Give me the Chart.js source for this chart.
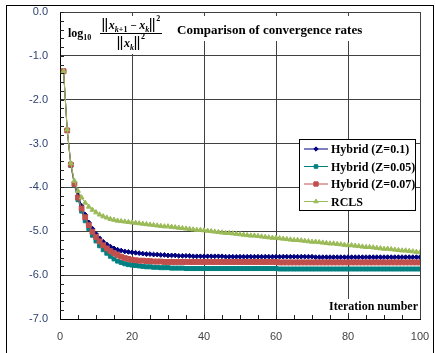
<!DOCTYPE html>
<html>
<head>
<meta charset="utf-8">
<script src="https://cdn.jsdelivr.net/npm/chart.js@4.4.1/dist/chart.umd.min.js"></script>
<style>
  html, body { margin: 0; padding: 0; background: #fff; }
  #wrap { width: 435px; height: 353px; position: relative; }
</style>
</head>
<body>
<div id="wrap"><canvas id="convChart"></canvas></div>
<script>
// ===== DATA =====
const iterations = Array.from({ length: 100 }, (_, i) => i + 1);

const hybrid01 = [
    -1.35, -2.68, -3.45, -3.88, -4.18, -4.42, -4.62, -4.80, -4.94, -5.06,
    -5.16, -5.24, -5.30, -5.35, -5.39, -5.42, -5.44, -5.46, -5.47, -5.48,
    -5.49, -5.50, -5.51, -5.52, -5.52, -5.53, -5.53, -5.54, -5.54, -5.55,
    -5.55, -5.55, -5.56, -5.56, -5.56, -5.56, -5.57, -5.57, -5.57, -5.57,
    -5.57, -5.57, -5.57, -5.57, -5.57, -5.58, -5.58, -5.58, -5.58, -5.58,
    -5.58, -5.58, -5.58, -5.58, -5.58, -5.58, -5.58, -5.58, -5.58, -5.58,
    -5.58, -5.58, -5.58, -5.58, -5.58, -5.58, -5.58, -5.58, -5.58, -5.58,
    -5.59, -5.59, -5.59, -5.59, -5.59, -5.59, -5.59, -5.59, -5.59, -5.59,
    -5.59, -5.59, -5.59, -5.59, -5.59, -5.59, -5.59, -5.59, -5.59, -5.59,
    -5.59, -5.59, -5.59, -5.59, -5.59, -5.59, -5.59, -5.59, -5.59, -5.59
];

const hybrid005 = [
    -1.35, -2.70, -3.50, -3.95, -4.28, -4.54, -4.76, -4.94, -5.09, -5.22,
    -5.33, -5.42, -5.50, -5.57, -5.63, -5.68, -5.71, -5.74, -5.76, -5.77,
    -5.78, -5.79, -5.80, -5.81, -5.81, -5.82, -5.82, -5.83, -5.83, -5.83,
    -5.84, -5.84, -5.84, -5.84, -5.85, -5.85, -5.85, -5.85, -5.85, -5.85,
    -5.85, -5.85, -5.85, -5.85, -5.85, -5.85, -5.85, -5.85, -5.85, -5.85,
    -5.85, -5.85, -5.85, -5.85, -5.85, -5.85, -5.85, -5.85, -5.85, -5.85,
    -5.86, -5.86, -5.86, -5.86, -5.86, -5.86, -5.86, -5.86, -5.86, -5.86,
    -5.86, -5.86, -5.86, -5.86, -5.86, -5.86, -5.86, -5.86, -5.86, -5.86,
    -5.86, -5.86, -5.86, -5.86, -5.86, -5.86, -5.86, -5.86, -5.86, -5.86,
    -5.86, -5.86, -5.86, -5.86, -5.86, -5.86, -5.86, -5.86, -5.86, -5.86
];

const hybrid007 = [
    -1.35, -2.70, -3.48, -3.92, -4.23, -4.48, -4.68, -4.86, -5.01, -5.13,
    -5.23, -5.32, -5.39, -5.45, -5.50, -5.54, -5.58, -5.61, -5.63, -5.65,
    -5.66, -5.67, -5.67, -5.68, -5.68, -5.69, -5.69, -5.69, -5.70, -5.70,
    -5.70, -5.70, -5.70, -5.70, -5.70, -5.70, -5.70, -5.70, -5.70, -5.70,
    -5.70, -5.70, -5.70, -5.70, -5.70, -5.70, -5.70, -5.70, -5.70, -5.70,
    -5.70, -5.70, -5.70, -5.70, -5.70, -5.70, -5.70, -5.70, -5.70, -5.70,
    -5.71, -5.71, -5.71, -5.71, -5.71, -5.71, -5.71, -5.71, -5.71, -5.71,
    -5.71, -5.71, -5.71, -5.71, -5.71, -5.71, -5.71, -5.71, -5.71, -5.71,
    -5.71, -5.71, -5.71, -5.71, -5.71, -5.71, -5.71, -5.71, -5.71, -5.71,
    -5.71, -5.71, -5.71, -5.71, -5.71, -5.71, -5.71, -5.71, -5.71, -5.71
];

const rcls = [
    -1.35, -2.68, -3.45, -3.85, -4.08, -4.23, -4.35, -4.44, -4.51, -4.57,
    -4.62, -4.66, -4.69, -4.72, -4.74, -4.76, -4.77, -4.78, -4.79, -4.80,
    -4.81, -4.82, -4.83, -4.84, -4.85, -4.86, -4.87, -4.88, -4.89, -4.89,
    -4.90, -4.91, -4.92, -4.93, -4.94, -4.95, -4.96, -4.97, -4.97, -4.98,
    -4.99, -5.00, -5.01, -5.02, -5.03, -5.04, -5.04, -5.05, -5.06, -5.07,
    -5.08, -5.09, -5.10, -5.10, -5.11, -5.12, -5.13, -5.14, -5.15, -5.15,
    -5.16, -5.17, -5.18, -5.19, -5.20, -5.20, -5.21, -5.22, -5.23, -5.24,
    -5.24, -5.25, -5.26, -5.27, -5.28, -5.28, -5.29, -5.30, -5.31, -5.32,
    -5.32, -5.33, -5.34, -5.35, -5.36, -5.36, -5.37, -5.38, -5.39, -5.40,
    -5.40, -5.41, -5.42, -5.43, -5.44, -5.44, -5.45, -5.46, -5.47, -5.48
];

const seriesNames = ['Hybrid (Z=0.1)', 'Hybrid (Z=0.05)', 'Hybrid (Z=0.07)', 'RCLS'];
const seriesColors = ['#000080', '#008080', '#C0504D', '#9BBB59'];
const seriesMarkers = ['rectRot', 'rect', 'rect', 'triangle'];
const seriesRadius = [2.4, 2.8, 3.4, 2.8];

const xTicks = [0, 20, 40, 60, 80, 100];
const yTicks = [0, -1, -2, -3, -4, -5, -6, -7];

const chartTitle = 'Comparison of convergence rates';
const xAxisTitle = 'Iteration number';

// ===== HELPERS =====
function toPoints(values) {
    return values.map((v, i) => ({ x: iterations[i], y: v }));
}

// pieces: [text, font, dy] or ['NORM'] for a double bar; returns end x
function drawRun(ctx, pieces, x, y, measureOnly) {
    pieces.forEach(p => {
        if (p[0] === 'NORM') {
            if (!measureOnly) {
                ctx.save();
                ctx.strokeStyle = '#000';
                ctx.lineWidth = 1.2;
                ctx.beginPath();
                ctx.moveTo(x + 1.5, y - 11); ctx.lineTo(x + 1.5, y + 3);
                ctx.moveTo(x + 4.5, y - 11); ctx.lineTo(x + 4.5, y + 3);
                ctx.stroke();
                ctx.restore();
            }
            x += 7;
            return;
        }
        ctx.font = p[1];
        if (!measureOnly) ctx.fillText(p[0], x, y + (p[2] || 0));
        x += ctx.measureText(p[0]).width;
    });
    return x;
}

// ===== DECORATIONS PLUGIN =====
const decorations = {
    id: 'decorations',
    afterDraw(chart) {
        const ctx = chart.ctx;
        const xs = chart.scales.x;
        const ys = chart.scales.y;
        const area = chart.chartArea;
        ctx.save();

        // outer frame
        ctx.strokeStyle = '#000';
        ctx.lineWidth = 1;
        ctx.strokeRect(6.5, 5.5, 427, 360);

        // minor ticks
        ctx.strokeStyle = '#222';
        ctx.beginPath();
        for (let v = 0; v >= -7; v -= 0.2) {
            const py = Math.round(ys.getPixelForValue(v)) + 0.5;
            ctx.moveTo(area.left, py);
            ctx.lineTo(area.left + 4, py);
        }
        for (let v = 5; v < 100; v += 5) {
            const px = Math.round(xs.getPixelForValue(v)) + 0.5;
            ctx.moveTo(px, area.bottom);
            ctx.lineTo(px, area.bottom - 4);
        }
        ctx.stroke();

        // white boxes behind texts
        ctx.fillStyle = '#fff';
        ctx.fillRect(65, 16, 100, 38);
        ctx.fillRect(168, 16, 216, 25);
        ctx.fillRect(332, 299, 87, 14);

        // title
        ctx.fillStyle = '#000';
        ctx.textBaseline = 'alphabetic';
        ctx.textAlign = 'left';
        ctx.font = 'bold 13px "Liberation Serif"';
        ctx.fillText(chartTitle, 177, 34);

        // axis caption
        ctx.font = 'bold 12px "Liberation Serif"';
        ctx.textAlign = 'right';
        ctx.fillText(xAxisTitle, 418, 310);
        ctx.textAlign = 'left';

        // formula: log10 ||x_{k+1} - x_k||^2 / ||x_k||^2
        const fL = 'bold 12px "Liberation Serif"';
        const fB = 'bold 11px "Liberation Serif"';
        const fI = 'italic bold 12px "Liberation Serif"';
        const fS = 'bold 8px "Liberation Serif"';
        const fSI = 'italic bold 8px "Liberation Serif"';
        drawRun(ctx, [['log', fL], ['10', fS, 3]], 68, 37);
        const num = [['NORM'], ['x', fI], ['k', fSI, 3], ['+1', fS, 3], [' \u2212 ', fB],
                     ['x', fI], ['k', fSI, 3], ['NORM'], ['2', fS, -8]];
        const den = [['NORM'], ['x', fI], ['k', fSI, 3], ['NORM'], ['2', fS, -8]];
        const barL = 100, barR = 162;
        const cx = (barL + barR) / 2;
        const wNum = drawRun(ctx, num, 0, 0, true);
        const wDen = drawRun(ctx, den, 0, 0, true);
        drawRun(ctx, num, cx - wNum / 2, 29);
        drawRun(ctx, den, cx - wDen / 2, 47);
        ctx.strokeStyle = '#000';
        ctx.lineWidth = 1;
        ctx.beginPath();
        ctx.moveTo(barL, 33.5);
        ctx.lineTo(barR, 33.5);
        ctx.stroke();

        // legend
        const lx = 299.5, ly = 139.5, lw = 116, lh = 71;
        ctx.fillStyle = '#fff';
        ctx.fillRect(lx, ly, lw, lh);
        ctx.strokeStyle = '#000';
        ctx.strokeRect(lx, ly, lw, lh);
        ctx.font = 'bold 12px "Liberation Serif"';
        ctx.textBaseline = 'middle';
        seriesNames.forEach((name, i) => {
            const rowY = 149 + i * 17.5;
            ctx.strokeStyle = seriesColors[i];
            ctx.lineWidth = 1;
            ctx.beginPath();
            ctx.moveTo(304, rowY);
            ctx.lineTo(328, rowY);
            ctx.stroke();
            ctx.fillStyle = seriesColors[i];
            Chart.helpers.drawPoint(ctx, {
                pointStyle: seriesMarkers[i],
                radius: seriesRadius[i] * 0.9,
                borderWidth: 1,
                rotation: 0
            }, 316, rowY);
            ctx.fillStyle = '#000';
            ctx.fillText(name, 331, rowY + 1);
        });

        ctx.restore();
    }
};

// ===== CHART =====
const datasets = [hybrid01, hybrid005, hybrid007, rcls].map((vals, i) => ({
    label: seriesNames[i],
    data: toPoints(vals),
    borderColor: seriesColors[i],
    backgroundColor: seriesColors[i],
    borderWidth: 1,
    pointStyle: seriesMarkers[i],
    pointRadius: seriesRadius[i],
    pointBorderWidth: 1,
    pointBorderColor: seriesColors[i],
    pointBackgroundColor: seriesColors[i],
    tension: 0,
    order: 4 - i
}));

new Chart(document.getElementById('convChart'), {
    type: 'line',
    data: { datasets },
    options: {
        responsive: true,
        maintainAspectRatio: false,
        animation: false,
        devicePixelRatio: 1,
        layout: { padding: { left: 6, right: 15, top: 12, bottom: 0 } },
        plugins: {
            legend: { display: false },
            tooltip: { enabled: false }
        },
        scales: {
            x: {
                type: 'linear',
                min: 0,
                max: 100,
                afterFit: (s) => { s.height = 34; s.paddingLeft = 0; s.paddingRight = 0; },
                afterBuildTicks: (s) => { s.ticks = xTicks.map(v => ({ value: v })); },
                grid: { color: '#404040', lineWidth: 1, drawTicks: false },
                border: { color: '#000', width: 1 },
                ticks: {
                    padding: 11,
                    color: '#444',
                    font: { family: '"Liberation Sans", Arial', size: 11 }
                }
            },
            y: {
                type: 'linear',
                min: -7,
                max: 0,
                afterFit: (s) => { s.width = 54; s.paddingTop = 0; s.paddingBottom = 0; },
                afterBuildTicks: (s) => { s.ticks = yTicks.map(v => ({ value: v })); },
                grid: { color: '#404040', lineWidth: 1, drawTicks: false },
                border: { color: '#000', width: 1 },
                ticks: {
                    padding: 12,
                    color: '#2e4372',
                    font: { family: '"Liberation Sans", Arial', size: 11 },
                    callback: (v) => v.toFixed(1)
                }
            }
        }
    },
    plugins: [decorations]
});
</script>
</body>
</html>
